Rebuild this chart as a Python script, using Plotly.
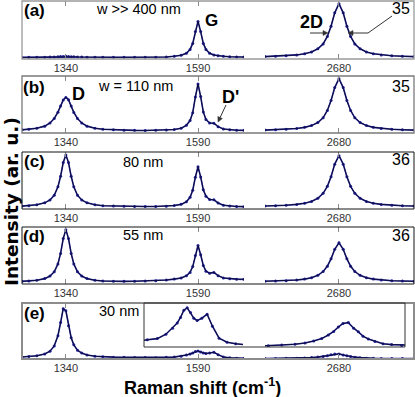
import math
import plotly.graph_objects as go

# Raman shift sampling (cm-1): the D/G window and the 2D window
shift_low = [1257, 1270, 1285, 1300, 1310, 1318, 1325, 1330, 1335, 1340,
             1345, 1350, 1355, 1362, 1370, 1380, 1395, 1410, 1430, 1450,
             1470, 1490, 1510, 1530, 1545, 1558, 1568, 1575, 1580, 1585,
             1590, 1595, 1600, 1605, 1612, 1620, 1628, 1638, 1650, 1663, 1677]
shift_high = [2540, 2560, 2580, 2600, 2615, 2628, 2640, 2650, 2658, 2665,
              2672, 2680, 2688, 2695, 2702, 2710, 2720, 2732, 2745, 2760,
              2780, 2800, 2822]

# normalised intensity, one pair of lists per ribbon width
a_low = [0.000, 0.002, 0.001, 0.004, 0.006, 0.008, 0.012, 0.015, 0.018, 0.020,
         0.017, 0.014, 0.010, 0.007, 0.005, 0.004, 0.002, 0.003, 0.002, 0.002,
         0.003, 0.003, 0.004, 0.007, 0.021, 0.040, 0.078, 0.148, 0.26, 0.48,
         0.67, 0.48, 0.26, 0.148, 0.078, 0.045, 0.030, 0.020, 0.012, 0.008, 0.006]
a_high = [0.015, 0.021, 0.030, 0.046, 0.068, 0.10, 0.16, 0.25, 0.39, 0.58,
          0.83, 1.0, 0.83, 0.58, 0.39, 0.25, 0.16, 0.10, 0.068, 0.046,
          0.030, 0.021, 0.015]

b_low = [0.03, 0.04, 0.06, 0.10, 0.16, 0.245, 0.365, 0.48, 0.595, 0.645,
         0.60, 0.48, 0.36, 0.245, 0.16, 0.10, 0.06, 0.04, 0.03, 0.02,
         0.02, 0.018, 0.02, 0.025, 0.035, 0.06, 0.115, 0.205, 0.355, 0.65,
         0.90, 0.66, 0.37, 0.225, 0.16, 0.155, 0.09, 0.045, 0.03, 0.022, 0.02]
b_high = [0.025, 0.031, 0.040, 0.056, 0.077, 0.11, 0.168, 0.258, 0.396, 0.585,
          0.83, 1.0, 0.83, 0.585, 0.396, 0.258, 0.168, 0.11, 0.077, 0.056,
          0.040, 0.031, 0.025]

c_low = [0.025, 0.033, 0.05, 0.087, 0.142, 0.23, 0.39, 0.59, 0.85, 0.995,
         0.85, 0.59, 0.39, 0.23, 0.142, 0.087, 0.05, 0.033, 0.026, 0.02,
         0.018, 0.017, 0.018, 0.024, 0.035, 0.058, 0.107, 0.193, 0.326, 0.573,
         0.77, 0.578, 0.335, 0.21, 0.15, 0.145, 0.085, 0.042, 0.026, 0.018, 0.015]
c_high = [0.026, 0.031, 0.040, 0.057, 0.079, 0.114, 0.173, 0.267, 0.399, 0.582,
          0.82, 0.98, 0.82, 0.582, 0.399, 0.267, 0.173, 0.114, 0.079, 0.057,
          0.040, 0.031, 0.026]

d_low = [0.02, 0.027, 0.04, 0.072, 0.12, 0.20, 0.35, 0.55, 0.83, 1.0,
         0.83, 0.55, 0.35, 0.20, 0.12, 0.072, 0.04, 0.027, 0.02, 0.02,
         0.022, 0.025, 0.032, 0.045, 0.063, 0.083, 0.125, 0.19, 0.30, 0.51,
         0.70, 0.525, 0.32, 0.213, 0.175, 0.19, 0.128, 0.085, 0.07, 0.062, 0.058]
d_high = [0.022, 0.026, 0.033, 0.046, 0.063, 0.089, 0.134, 0.206, 0.307, 0.447,
          0.628, 0.75, 0.628, 0.447, 0.307, 0.206, 0.134, 0.089, 0.063, 0.046,
          0.033, 0.026, 0.022]

e_low = [0.021, 0.025, 0.035, 0.058, 0.094, 0.16, 0.288, 0.453, 0.628, 0.602,
         0.415, 0.263, 0.173, 0.106, 0.069, 0.046, 0.03, 0.023, 0.018, 0.0155,
         0.014, 0.013, 0.012, 0.016, 0.019, 0.03, 0.045, 0.058, 0.072, 0.090,
         0.096, 0.084, 0.070, 0.064, 0.070, 0.080, 0.050, 0.020, 0.010, 0.006, 0.004]
e_high = [0.0, 0.001, 0.003, 0.005, 0.008, 0.013, 0.019, 0.028, 0.037, 0.048,
          0.057, 0.059, 0.045, 0.036, 0.025, 0.018, 0.012, 0.006, 0.004, 0.002,
          0.001, 0.001, 0.0]

panel_tags = ['(a)', '(b)', '(c)', '(d)', '(e)']
width_labels = ['w >> 400 nm', 'w = 110 nm', '80 nm', '55 nm', '30 nm']
fwhm_2d = ['35', '35', '36', '36']
low_ticks = [1340, 1590]
high_ticks = [2680]

spectra = [(a_low, a_high), (b_low, b_high), (c_low, c_high),
           (d_low, d_high), (e_low, e_high)]

W, H = 415, 397
ML, MR, MT, MB = 22, 1, 1, 38


def px(x):
    return (x - ML) / (W - ML - MR)


def py(y):
    return (H - MB - y) / (H - MT - MB)


# pixel boxes of the five panels and of the inset
tops = [1, 76, 152, 227, 303]
bottoms = [59, 133, 209, 284, 359]
frame_col = ['#9a9a9a', '#7a7a7a', '#151515', '#151515', '#8c8c8c']
frame_w = [1.3, 1.3, 1, 1, 2]
y_ranges = [[-0.03, 1.05]] * 4 + [[-0.005, 0.70]]
low_dom = [0, px(244)]
high_dom = [px(265), 1]
low_range = [1257, 1677]
high_range = [2540, 2822]

NAVY = '#1f1f96'
TICKFONT = dict(family='Liberation Sans', size=11, color='#333')

fig = go.Figure()
layout = {}
shapes = []
annotations = []


def add_spectrum(x, y, xref, yref):
    fig.add_trace(go.Scatter(
        x=x, y=y, xaxis=xref, yaxis=yref, mode='lines+markers',
        line=dict(color=NAVY, width=1.6),
        marker=dict(color=NAVY, size=3),
        hoverinfo='skip'
    ))
    fig.add_trace(go.Scatter(
        x=x, y=y, xaxis=xref, yaxis=yref, mode='lines',
        line=dict(color='black', width=0.6),
        hoverinfo='skip'
    ))


for i, (low, high) in enumerate(spectra):
    yn = i + 1
    yref = 'y' if yn == 1 else f'y{yn}'
    x1, x2 = 2 * i + 1, 2 * i + 2
    x1ref = 'x' if x1 == 1 else f'x{x1}'
    x2ref = f'x{x2}'
    ydom = [py(bottoms[i]), py(tops[i])]

    layout['yaxis' if yn == 1 else f'yaxis{yn}'] = dict(
        domain=ydom, range=y_ranges[i], visible=False, anchor=x1ref
    )
    for n, dom, rng, tv in [(x1, low_dom, low_range, low_ticks),
                            (x2, high_dom, high_range, high_ticks)]:
        layout['xaxis' if n == 1 else f'xaxis{n}'] = dict(
            domain=dom, range=rng, anchor=yref,
            tickvals=tv, ticks='inside', ticklen=5, tickwidth=1,
            tickcolor='#8a8a8a', mirror='ticks', showline=False,
            showgrid=False, zeroline=False, tickfont=TICKFONT,
            ticklabelstandoff=1
        )

    add_spectrum(shift_low, low, x1ref, yref)
    add_spectrum(shift_high, high, x2ref, yref)

    shapes.append(dict(
        type='rect', xref='paper', yref='paper',
        x0=0, x1=1, y0=ydom[0], y1=ydom[1],
        line=dict(color=frame_col[i], width=frame_w[i]), layer='above'
    ))

# inset of panel (e): G/D' and 2D bands magnified
layout['yaxis6'] = dict(domain=[py(347), py(303)], range=[-0.002, 0.108],
                        visible=False, anchor='x11')
layout['xaxis11'] = dict(domain=[px(144), px(243)], range=[1525, 1674],
                         anchor='y6', visible=False)
layout['xaxis12'] = dict(domain=[px(265), px(405)], range=[2555, 2765],
                         anchor='y6', visible=False)
add_spectrum(shift_low, e_low, 'x11', 'y6')
add_spectrum(shift_high, e_high, 'x12', 'y6')
shapes.append(dict(
    type='rect', xref='paper', yref='paper',
    x0=px(144), x1=px(405), y0=py(347), y1=py(303),
    line=dict(color='#333', width=1), layer='above'
))


def label(text, x, y, size, bold=False, family='Liberation Sans', angle=0):
    annotations.append(dict(
        text=f'<b>{text}</b>' if bold else text,
        x=px(x), y=py(y), xref='paper', yref='paper', textangle=angle,
        showarrow=False, xanchor='center', yanchor='middle',
        font=dict(family=family, size=size, color='black')
    ))


def pointer(x0, y0, x1, y1, colour='#333'):
    # straight line with a filled head at (x1, y1), pixel coordinates
    n = math.hypot(x1 - x0, y1 - y0)
    ux, uy = (x1 - x0) / n, (y1 - y0) / n
    bx, by = x1 - 5 * ux, y1 - 5 * uy
    nx, ny = -uy * 2.5, ux * 2.5
    shapes.append(dict(type='line', xref='paper', yref='paper',
                       x0=px(x0), y0=py(y0), x1=px(bx), y1=py(by),
                       line=dict(color=colour, width=1)))
    shapes.append(dict(
        type='path', xref='paper', yref='paper',
        path=(f'M {px(x1)} {py(y1)} L {px(bx + nx)} {py(by + ny)} '
              f'L {px(bx - nx)} {py(by - ny)} Z'),
        fillcolor=colour, line=dict(color=colour, width=0.5)
    ))


tag_y = [10, 87, 161, 236, 313]
width_pos = [(138, 9), (135, 86), (143, 162), (143, 235), (119, 311)]
for i in range(5):
    label(panel_tags[i], 34, tag_y[i], 17, bold=True)
    label(width_labels[i], *width_pos[i], 14.5)
for i, v in enumerate(fwhm_2d):
    label(v, 401, tag_y[i] - 1, 16)

label('G', 211, 20, 17, bold=True)
label('2D', 311, 22, 18, bold=True)
label('D', 78, 94, 18, bold=True)
label("D'", 230, 97, 18, bold=True)

# FWHM arrows on the 2D band and the D' pointer
pointer(310, 33, 328, 33)
pointer(368, 33, 348, 33)
pointer(226, 105, 218, 122)
shapes.append(dict(type='line', xref='paper', yref='paper',
                   x0=px(368), y0=py(33), x1=px(392), y1=py(16),
                   line=dict(color='#333', width=1)))

label('Raman shift (cm<sup>-1</sup>)', 202, 386, 18, bold=True)
label('Intensity (ar. u.)', 11, 202, 18.5, bold=True,
      family='DejaVu Sans', angle=-90)

fig.update_layout(
    layout,
    width=W, height=H,
    margin=dict(l=ML, r=MR, t=MT, b=MB),
    showlegend=False,
    plot_bgcolor='white', paper_bgcolor='white',
    shapes=shapes, annotations=annotations
)

# the page's default body margin would shift the whole figure by 8 px
fig.write_html('out.html', config={'displayModeBar': False},
               post_script="document.body.style.margin='0';")
